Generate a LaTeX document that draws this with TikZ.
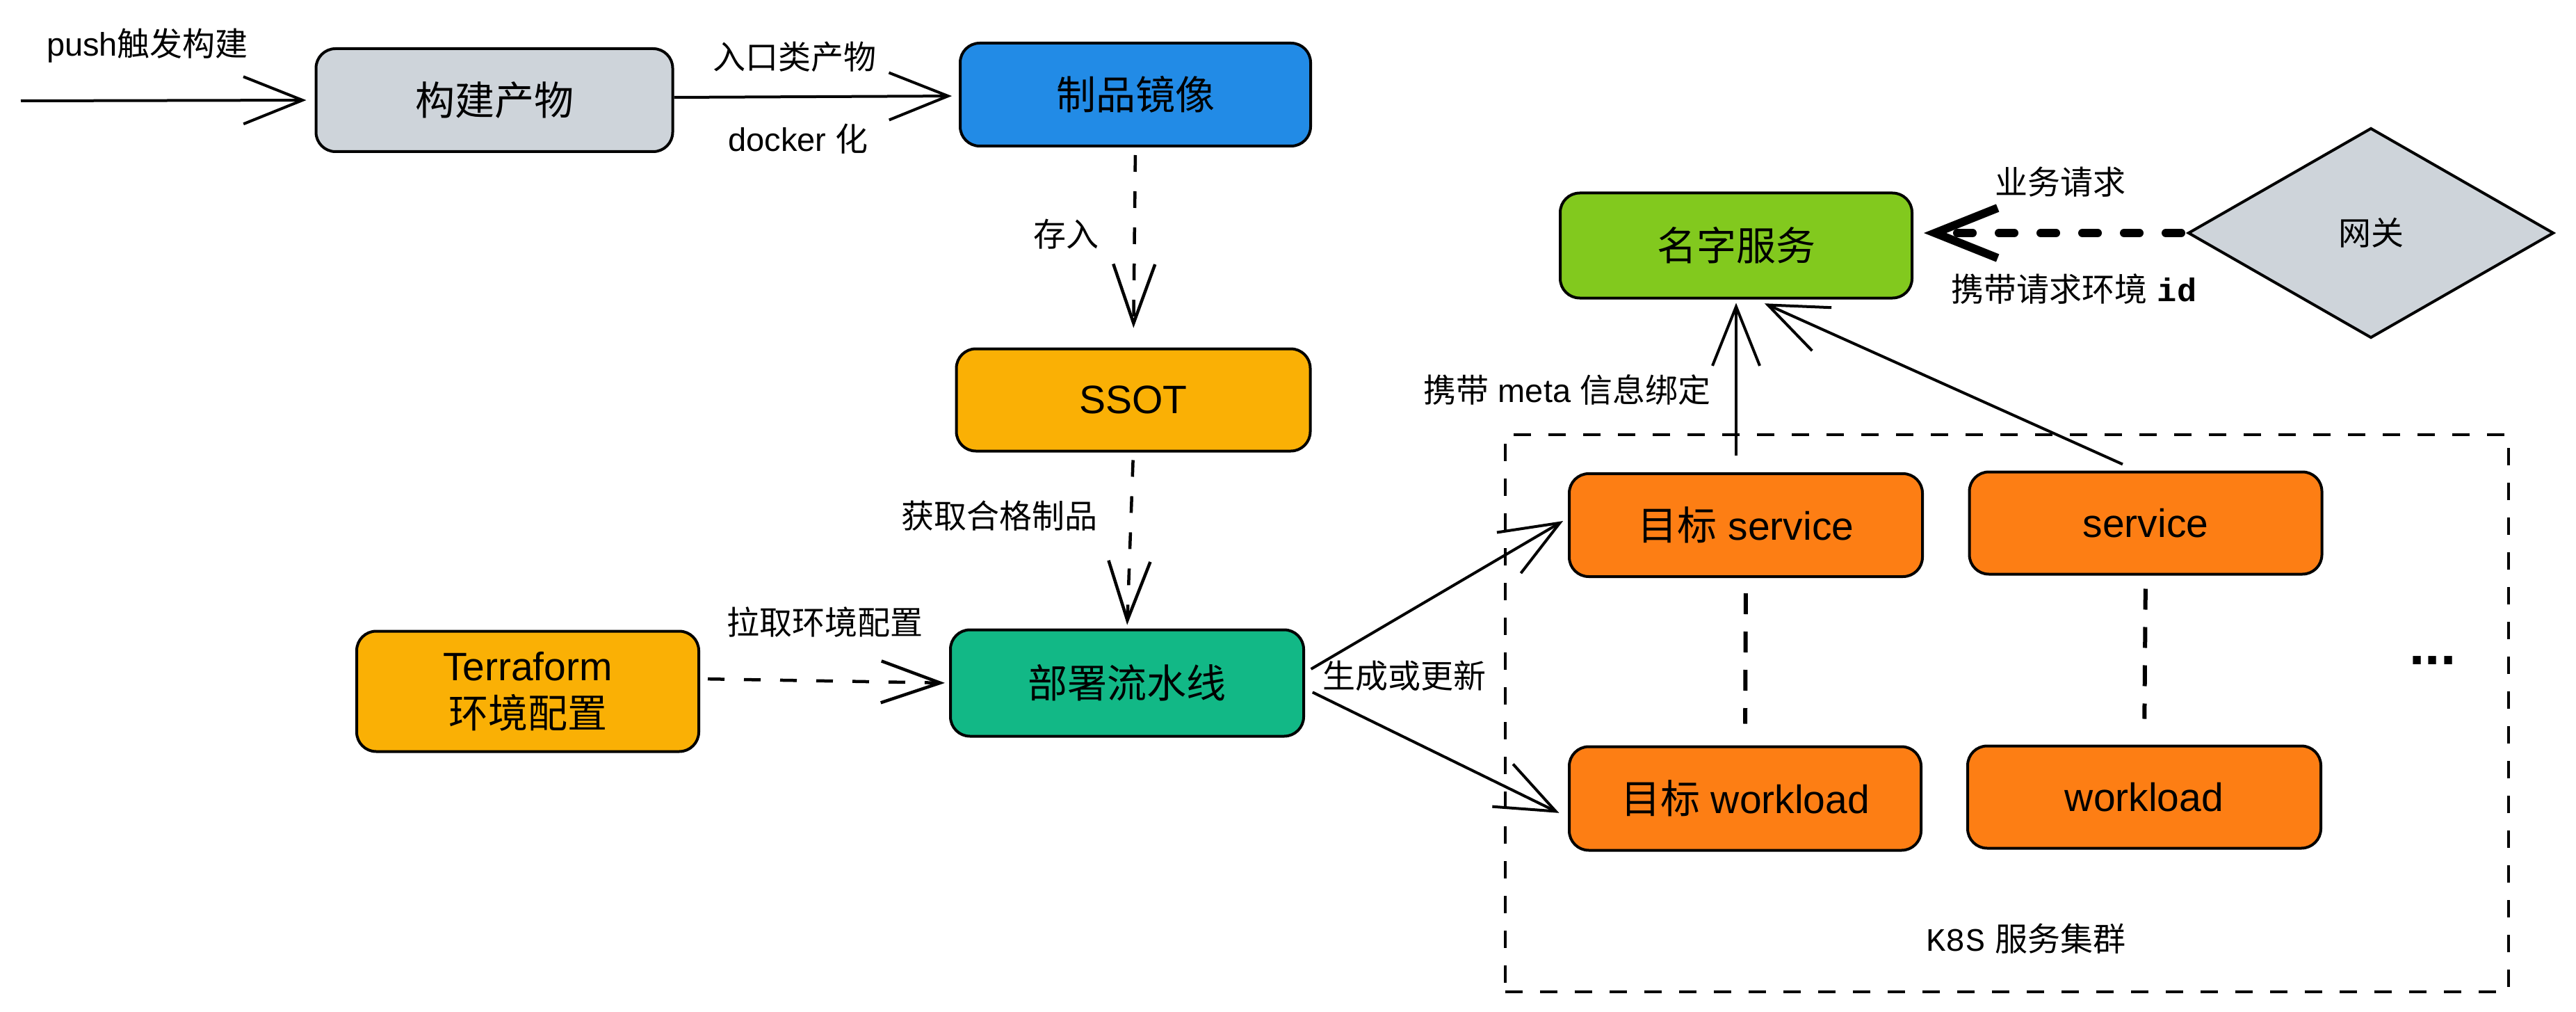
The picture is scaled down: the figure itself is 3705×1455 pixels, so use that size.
\documentclass[tikz,border=0pt]{standalone}
\usepackage{fontspec}
\setmainfont{Liberation Sans}
\newfontfamily\cjk{Noto Sans CJK SC}
\newfontfamily\monof{Liberation Mono}
\usetikzlibrary{arrows.meta,shapes.geometric,calc}
\definecolor{cgray}{HTML}{CED4DA}
\definecolor{cblue}{HTML}{228BE6}
\definecolor{cyel}{HTML}{FAB005}
\definecolor{cteal}{HTML}{12B886}
\definecolor{cgreen}{HTML}{82C91E}
\definecolor{corange}{HTML}{FD7E14}
\tikzset{
  box/.style={draw=black, line width=4pt, rounded corners=28pt, inner sep=0pt, align=center,
    font=\fontsize{57}{68}\selectfont},
  lbl/.style={inner sep=0pt, font=\fontsize{47}{56}\selectfont},
  arr/.style={line width=4pt, -{Straight Barb[length=85pt,width=68pt]}},
  dsharr/.style={line width=4.5pt, dash pattern=on 24pt off 28pt, -{Straight Barb[length=85pt,width=60pt]}},
  vdsh/.style={line width=6pt, dash pattern=on 30pt off 25pt},
  dotarr/.style={line width=12pt, line cap=round, dash pattern=on 22pt off 38pt,
    -{Straight Barb[length=90pt,width=72pt]}},
}
\begin{document}
\begin{tikzpicture}[x=1pt,y=-1pt]
\useasboundingbox (0,0) rectangle (3705,1455);
\fill[white] (0,0) rectangle (3705,1455);

% cluster
\node[draw, line width=4.5pt, dash pattern=on 25pt off 25pt, minimum width=1443pt, minimum height=801pt, inner sep=0pt] (cluster) at (2886.5,1025.5) {};
\node[lbl] (k8s) at (2914,1350) {{\monof K8S}\hspace{14pt}{\cjk 服务集群}};

% nodes
\node[box, fill=cgray, minimum width=513pt, minimum height=148pt] (build) at (711,144) {\cjk 构建产物};
\node[box, fill=cblue, minimum width=504pt, minimum height=148pt] (image) at (1633,136) {\cjk 制品镜像};
\node[box, fill=cyel, minimum width=509pt, minimum height=147pt] (ssot) at (1630,575) {SSOT};
\node[box, fill=cteal, minimum width=508pt, minimum height=153pt] (pipe) at (1621,982) {\cjk 部署流水线};
\node[box, fill=cyel, minimum width=492pt, minimum height=173pt] (tf) at (759,994) {Terraform\\{\cjk 环境配置}};
\node[box, fill=cgreen, minimum width=506pt, minimum height=151pt] (ns) at (2497,353) {\cjk 名字服务};
\node[draw=black, line width=4pt, fill=cgray, diamond, minimum width=526pt, minimum height=302pt, inner sep=0pt,
  font=\fontsize{47}{56}\selectfont] (gw) at (3410,335) {\cjk 网关};
\node[box, fill=corange, minimum width=508pt, minimum height=148pt] (ts) at (2511,755) {{\cjk 目标} service};
\node[box, fill=corange, minimum width=507pt, minimum height=147pt] (s) at (3086,752) {service};
\node[box, fill=corange, minimum width=506pt, minimum height=149pt] (tw) at (2510,1148) {{\cjk 目标} workload};
\node[box, fill=corange, minimum width=508pt, minimum height=147pt] (w) at (3084,1146) {workload};
\node[inner sep=0pt, font=\fontsize{80}{90}\selectfont\bfseries] (dots) at (3499,950) {...};

% connectors
\coordinate (start) at (30,145);
\draw[arr, shorten >=12pt] (start) -- (build.west);
\node[lbl] (lpush) at (212,66) {push{\cjk 触发构建}};

\draw[arr, shorten >=10pt] ([yshift=4pt]build.east) -- ([yshift=-2pt]image.west);
\node[lbl] (l1) at (1143,82) {\cjk 入口类产物};
\node[lbl] (l2) at (1148,200) {docker {\cjk 化}};

\draw[dsharr, shorten <=11pt, shorten >=28pt] (image.south) -- (ssot.north);
\node[lbl] (l3) at (1533,337) {\cjk 存入};

\draw[dsharr, shorten <=11pt, shorten >=5pt] (ssot.south) -- (pipe.north);
\node[lbl] (l4) at (1437,742) {\cjk 获取合格制品};

\draw[dsharr, shorten <=11pt, shorten >=6pt] ([yshift=18pt]tf.east) -- (pipe.west);
\node[lbl] (l5) at (1186,895) {\cjk 拉取环境配置};

\draw[arr, shorten <=10pt, shorten >=8pt] ([yshift=15pt]pipe.east) -- ([yshift=10pt]ts.west);
\draw[arr, shorten <=12pt, shorten >=14pt] ([yshift=-8pt]pipe.east) -- ([yshift=-27pt]tw.west);
\node[lbl] (l6) at (2020,972) {\cjk 生成或更新};

\draw[vdsh, shorten <=22pt, shorten >=31pt] (ts.south) -- (tw.north);
\draw[vdsh, shorten <=19pt, shorten >=37pt] (s.south) -- (w.north);

\draw[arr, shorten <=24pt, shorten >=5pt] (ts.north -| ns.south) -- (ns.south);
\draw[arr, shorten <=22pt, shorten >=14pt] ([xshift=-13pt]s.north) -- ([xshift=28pt]ns.south);
\node[lbl] (l7) at (2254,560) {{\cjk 携带} meta {\cjk 信息绑定}};

\draw[dotarr, shorten <=8pt, shorten >=15pt] (gw.west) -- (gw.west -| ns.east);
\node[lbl] (l8) at (2963,262) {\cjk 业务请求};
\node[lbl] (l9) at (2983,416) {{\cjk 携带请求环境}\hspace{14pt}{\monof\bfseries id}};
\end{tikzpicture}
\end{document}
